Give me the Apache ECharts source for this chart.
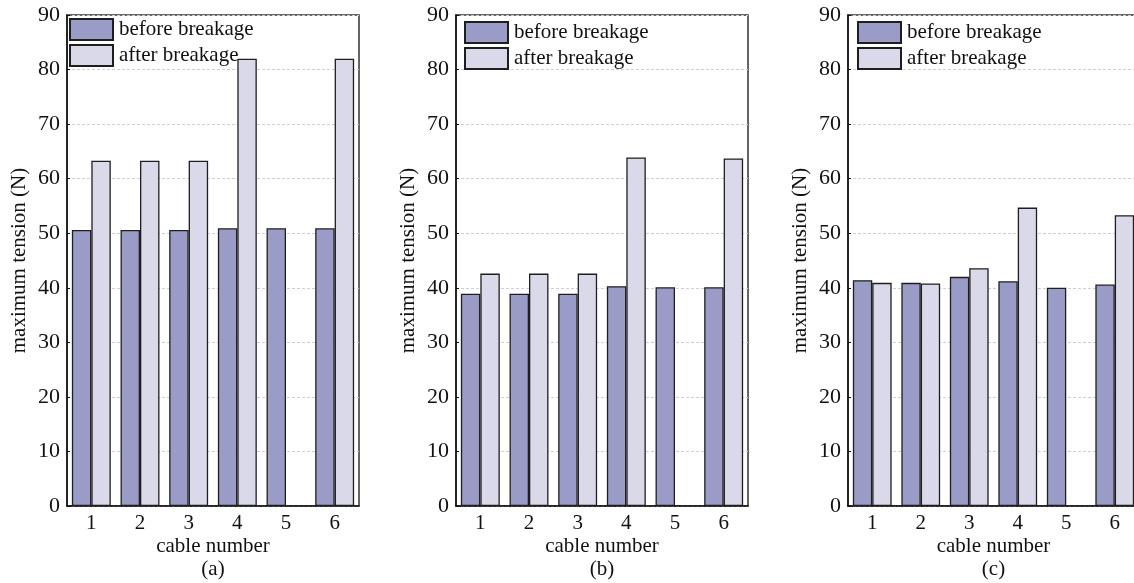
<!DOCTYPE html>
<html>
<head>
<meta charset="utf-8">
<script src="https://cdn.jsdelivr.net/npm/echarts@6/dist/echarts.min.js"></script>
<style>
html,body{margin:0;padding:0;background:#fff;}
#chart{width:1134px;height:583px;}
</style>
</head>
<body>
<div id="chart"></div>
<script>
// ---- data ----
const categories = ['1', '2', '3', '4', '5', '6'];
const panelLabels = ['(a)', '(b)', '(c)'];
const seriesNames = ['before breakage', 'after breakage'];
const yTicks = { min: 0, max: 90, interval: 10 };

const beforeA = [50.6, 50.6, 50.6, 50.9, 50.9, 50.9];
const afterA  = [63.3, 63.3, 63.3, 82.0, null, 82.0];

const beforeB = [38.9, 38.9, 38.9, 40.3, 40.1, 40.1];
const afterB  = [42.6, 42.6, 42.6, 63.9, null, 63.7];

const beforeC = [41.4, 40.9, 42.0, 41.2, 40.0, 40.6];
const afterC  = [40.9, 40.8, 43.6, 54.7, null, 53.3];

const panels = [
  { before: beforeA, after: afterA },
  { before: beforeB, after: afterB },
  { before: beforeC, after: afterC }
];

// ---- layout / style ----
const FONT = '"Liberation Serif", "Times New Roman", serif';
const TXT = '#111';
const colBefore = '#9b9bc8';
const colAfter = '#d9d9ea';
const edge = '#1e1e1e';

const gridsPos = [
  { left: 67, width: 292 },
  { left: 456, width: 292 },
  { left: 848, width: 291 }
];
const legendPos = [
  { left: 69, top: 18 },
  { left: 464, top: 21 },
  { left: 857, top: 21 }
];

const option = {
  animation: false,
  backgroundColor: '#fff',
  textStyle: { fontFamily: FONT },
  grid: gridsPos.map(g => ({
    left: g.left, width: g.width, top: 15, bottom: 77,
    show: true, borderColor: '#333', borderWidth: 1.5,
    backgroundColor: 'transparent', containLabel: false,
    outerBoundsMode: 'none'
  })),
  legend: legendPos.map(p => ({
    left: p.left, top: p.top, orient: 'vertical',
    itemWidth: 43, itemHeight: 21, itemGap: 3, padding: 0,
    icon: 'rect',
    data: seriesNames,
    selectedMode: false,
    textStyle: { fontFamily: FONT, fontSize: 21, color: TXT, padding: [0, 0, 0, 1] }
  })),
  xAxis: panels.map((p, i) => ({
    type: 'category', gridIndex: i, data: categories,
    axisLine: { show: true, lineStyle: { color: '#111', width: 1.5 } },
    axisTick: { show: false },
    axisLabel: { fontFamily: FONT, fontSize: 21, color: TXT, margin: 7 },
    splitLine: { show: false },
    name: 'cable number\n' + panelLabels[i],
    nameLocation: 'middle', nameGap: 29, nameMoveOverlap: false,
    nameTextStyle: { fontFamily: FONT, fontSize: 21, color: TXT, lineHeight: 23 }
  })),
  yAxis: panels.map((p, i) => ({
    type: 'value', gridIndex: i,
    min: yTicks.min, max: yTicks.max, interval: yTicks.interval,
    axisLine: { show: true, lineStyle: { color: '#111', width: 1.5 } },
    axisTick: { show: true, inside: true, length: 3, lineStyle: { color: '#111' } },
    axisLabel: { fontFamily: FONT, fontSize: 22, color: TXT, margin: 7 },
    splitLine: { show: true, lineStyle: { color: '#d0d0d0', type: [3, 2], width: 1 } },
    name: 'maximum tension (N)',
    nameLocation: 'middle', nameGap: 37, nameMoveOverlap: false,
    nameTextStyle: { fontFamily: FONT, fontSize: 21, color: TXT }
  })),
  series: []
};

panels.forEach((p, i) => {
  option.series.push({
    name: seriesNames[0], type: 'bar', xAxisIndex: i, yAxisIndex: i,
    data: p.before, barGap: '0%', barCategoryGap: '20%',
    itemStyle: { color: colBefore, borderColor: edge, borderWidth: 1.3 }
  });
  option.series.push({
    name: seriesNames[1], type: 'bar', xAxisIndex: i, yAxisIndex: i,
    data: p.after, barGap: '0%', barCategoryGap: '20%',
    itemStyle: { color: colAfter, borderColor: edge, borderWidth: 1.3 }
  });
});

const chart = echarts.init(document.getElementById('chart'), null, { renderer: 'canvas' });
chart.setOption(option);
</script>
</body>
</html>
